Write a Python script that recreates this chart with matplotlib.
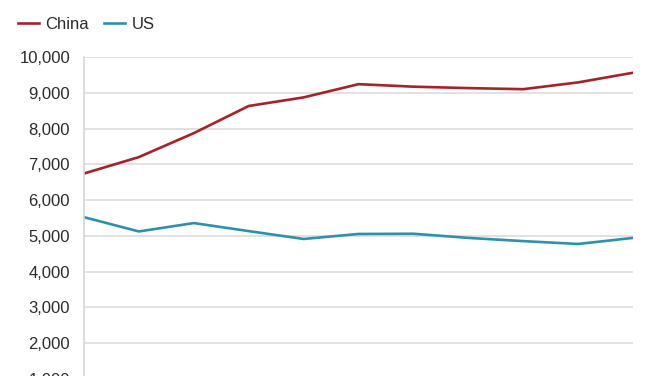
import matplotlib.pyplot as plt
from matplotlib.ticker import FuncFormatter

plt.rcParams['font.family'] = ['Liberation Sans', 'DejaVu Sans']

# Data (x labels are cropped out of the reference)
years = [2010, 2011, 2012, 2013, 2014, 2015, 2016, 2017, 2018, 2019, 2020]
china = [6740, 7200, 7870, 8630, 8870, 9240, 9170, 9130, 9100, 9290, 9560]
us = [5520, 5120, 5355, 5130, 4910, 5050, 5056, 4940, 4850, 4770, 4940]

red = '#a3232a'
teal = '#2f90ad'

fig = plt.figure(figsize=(6.68, 3.76), dpi=100)
ax = fig.add_axes([0.1257, -0.1024, 0.822, 0.9508])

ax.plot(years, china, color=red, lw=1.9, label='China')
ax.plot(years, us, color=teal, lw=1.9, label='US')

ax.set_xlim(years[0], years[-1])
ax.set_ylim(0, 10000)
ax.set_yticks(range(0, 10001, 1000))
ax.yaxis.set_major_formatter(FuncFormatter(lambda v, p: f'{int(v):,}'))
ax.tick_params(axis='y', length=0, pad=10, labelsize=12, labelcolor='#2b2b2b')
# year labels sit below the cropped area of the reference
ax.set_xticks(years)
ax.tick_params(axis='x', length=0, labelbottom=False)

ax.grid(axis='y', color='#dcdcdc', lw=1.2)
ax.set_axisbelow(True)
for s in ['top', 'right', 'bottom']:
    ax.spines[s].set_visible(False)
ax.spines['left'].set_color('#d6d6d6')
ax.spines['left'].set_linewidth(1.2)

ax.legend(loc='upper left', bbox_to_anchor=(-0.148, 1.155), ncol=2, frameon=False,
          fontsize=12, handlelength=1.25, handletextpad=0.4, columnspacing=0.9,
          labelcolor='#2b2b2b')

fig.savefig('out.png', dpi=100)
